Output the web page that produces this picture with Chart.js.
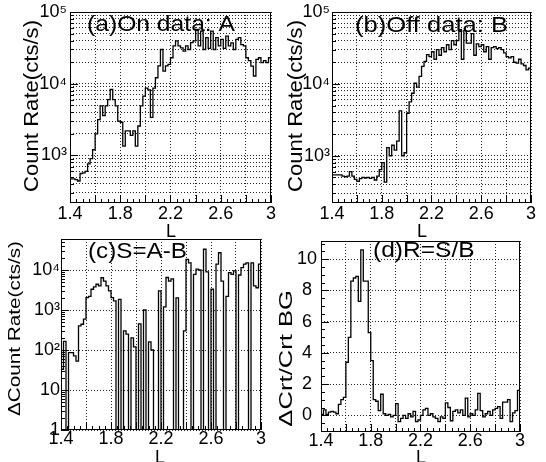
<!DOCTYPE html>
<html>
<head>
<meta charset="utf-8">
<script src="https://cdn.jsdelivr.net/npm/chart.js@4/dist/chart.umd.min.js"></script>
<style>
html,body{margin:0;padding:0;background:#fff;}
#wrap{position:relative;width:546px;height:462px;overflow:hidden;background:#fff;}
canvas{position:absolute;}
</style>
</head>
<body>
<div id="wrap">
<canvas id="ca" width="285" height="245" style="left:0px;top:0px"></canvas>
<canvas id="cb" width="273" height="245" style="left:273px;top:0px"></canvas>
<canvas id="cc" width="285" height="231" style="left:0px;top:231px"></canvas>
<canvas id="cd" width="273" height="231" style="left:273px;top:231px"></canvas>
</div>
<script>
// ---------------- data ----------------
const L_MIN = 1.4;
const L_MAX = 3.0;
const BIN_WIDTH = 0.02;

// (a) On data A, count rate (cts/s) per L bin
const ON_A = [
  470, 470, 460, 440, 560, 570, 600, 760, 900, 1200,
  2000, 3150, 4900, 3600, 4900, 6000, 8300, 6000, 4900, 3000,
  2900, 1350, 2200, 2200, 1900, 2200, 1350, 2570, 4900, 6700,
  8700, 8200, 3400, 8700, 12100, 17700, 30000, 15000, 17700, 18600,
  23000, 33700, 39500, 33700, 31700, 28500, 33700, 30000, 37500, 39500,
  57000, 33700, 54000, 30000, 44000, 31000, 54000, 30000, 44000, 33700,
  41500, 31000, 46000, 33700, 37000, 30000, 41500, 44000, 35000, 33700,
  23000, 21000, 17600, 12800, 21800, 23000, 19700, 21000, 19700, 23000
];
// (b) Off data B
const OFF_B = [
  540, 540, 540, 540, 520, 510, 520, 600, 520, 470,
  440, 480, 500, 490, 500, 485, 500, 460, 520, 640,
  800, 430, 1300, 1000, 1400, 1200, 1600, 4200, 1000, 1100,
  3900, 5600, 7400, 10200, 9000, 12700, 17500, 20500, 25500, 24000,
  28000, 22000, 30000, 25000, 32000, 28000, 35000, 30000, 40000, 35000,
  40000, 57000, 22000, 55000, 37000, 37000, 50000, 25000, 36000, 33000,
  35000, 28000, 33000, 22000, 32000, 33000, 31000, 32000, 30000, 27000,
  24000, 23000, 24000, 20000, 19500, 22000, 19000, 18000, 15700, 16500
];
// (c) S = A - B (0 = not positive, drawn to the bottom of the log axis)
const DIFF_S = [
  33, 165, 0, 86, 86, 71, 53, 400, 440, 590,
  2050, 2200, 3300, 3800, 4400, 4000, 6400, 5300, 4000, 3000,
  2050, 1700, 0, 1850, 0, 300, 250, 0, 200, 120,
  0, 450, 0, 1000, 0, 160, 100, 0, 0, 3000,
  0, 1200, 6500, 5300, 6000, 0, 2000, 0, 0, 300,
  18500, 15000, 0, 7800, 10500, 10000, 0, 33000, 9000, 0,
  3300, 0, 14000, 27000, 5300, 0, 2200, 8600, 7800, 9500,
  0, 7500, 11500, 14000, 15000, 0, 15000, 4000, 3600, 14000
];
// (d) R = S / B
const RATIO_R = [
  0.05, 0.35, 0.05, 0.2, 0.25, 0.2, 0.1, 0.7, 1.0, 1.15,
  3.4, 5.0, 8.6, 8.8, 8.9, 7.3, 10.6, 8.6, 8.6, 5.3,
  3.5, 1.0, 0.9, 0.3, 1.35, 0.1, 0.0, 0.05, -0.1, 0.0,
  0.75, -0.4, -0.2, 0.0, -0.2, 0.1, -0.1, 0.25, -0.4, -0.3,
  0.0, 0.35, 0.45, 0.0, 0.1, -0.1, -0.2, -0.4, -0.1, -0.2,
  0.8, 0.5, -0.35, 0.25, 0.35, 0.15, 0.35, 0.0, 1.1, -0.1,
  0.1, 0.0, 0.35, 1.4, 0.3, -0.1, 0.1, 0.25, 0.0, 0.35,
  0.45, 0.55, -0.2, 0.85, 0.85, 1.0, -0.4, 0.15, 0.3, 1.6
];

// ---------------- ticks / labels ----------------
const X_GRID_TICKS = [1.4, 1.6, 1.8, 2.0, 2.2, 2.4, 2.6, 2.8, 3.0];
const X_LABEL_VALUES = [1.4, 1.8, 2.2, 2.6, 3.0];
const X_LABEL_TEXT = ['1.4', '1.8', '2.2', '2.6', '3'];
const X_MINOR_STEP = 0.05;

const DECADES_AB = [100, 1000, 10000, 100000];
const DECADE_LABELS_AB = ['10²', '10³', '10⁴', '10⁵'];
const DECADES_C = [1, 10, 100, 1000, 10000];
const DECADE_LABELS_C = ['1', '10', '10²', '10³', '10⁴'];
const LIN_TICKS_D = [0, 2, 4, 6, 8, 10];
const LIN_LABELS_D = ['0', '2', '4', '6', '8', '10'];
const LIN_MINOR_D = 0.5;

const PANEL_TITLES = ['(a)On data: A', '(b)Off data: B', '(c)S=A-B', '(d)R=S/B'];
const Y_TITLES = ['Count Rate(cts/s)', 'Count Rate(cts/s)', 'ΔCount Rate(cts/s)', 'ΔCrt/Crt BG'];
const X_TITLE = 'L';

// ---------------- helpers ----------------
const FONT = '"Liberation Sans", Arial, Helvetica, sans-serif';
const GRID_COLOR = 'rgba(0,0,0,0.85)';
const GRID_DASH = [1, 2];
const LOG_FLOOR = 0.3; // non-positive bins drop to the bottom of a log axis

function histogram(values, floor) {
  const pts = values.map((v, i) => ({
    x: +(L_MIN + i * BIN_WIDTH).toFixed(4),
    y: floor === undefined ? v : Math.max(v, floor)
  }));
  pts.push({x: L_MAX, y: pts[pts.length - 1].y});
  return pts;
}

function logMinorTicks(decades, lo, hi) {
  const out = [];
  decades.forEach(d => {
    for (let m = 1; m <= 9; m++) {
      const v = d * m;
      if (v >= lo && v <= hi) out.push(v);
    }
  });
  return out;
}

function near(a, b) { return Math.abs(a - b) < 1e-6 * Math.max(1, Math.abs(b)); }

function fitText(ctx, text, x, y, px, width, rotated, align) {
  ctx.save();
  ctx.font = px + 'px ' + FONT;
  ctx.fillStyle = '#000';
  ctx.textBaseline = 'alphabetic';
  ctx.textAlign = align || 'left';
  ctx.translate(x, y);
  if (rotated) ctx.rotate(-Math.PI / 2);
  if (width) {
    const w = ctx.measureText(text).width;
    ctx.scale(width / w, 1);
  }
  ctx.fillText(text, 0, 0);
  ctx.restore();
}

function decoPlugin(spec) {
  return {
    id: 'deco',
    afterDraw(chart) {
      const ctx = chart.ctx;
      const a = chart.chartArea;
      const xs = chart.scales.x, ys = chart.scales.y;
      ctx.save();
      ctx.strokeStyle = '#000';
      ctx.lineWidth = 1;
      ctx.setLineDash([]);
      ctx.beginPath();
      for (let v = L_MIN; v <= L_MAX + 1e-9; v += X_MINOR_STEP) {
        const px = Math.round(xs.getPixelForValue(v)) + 0.5;
        const major = X_GRID_TICKS.some(t => near(t, v));
        ctx.moveTo(px, a.bottom);
        ctx.lineTo(px, a.bottom - (major ? 8 : 4));
      }
      spec.yTicks.forEach(t => {
        const py = Math.round(ys.getPixelForValue(t.v)) + 0.5;
        if (py < a.top - 0.5 || py > a.bottom + 0.5) return;
        ctx.moveTo(a.left, py);
        ctx.lineTo(a.left + t.len, py);
      });
      ctx.stroke();
      ctx.strokeRect(Math.round(a.left) + 0.5, Math.round(a.top) + 0.5,
        Math.round(a.right - a.left) - 1, Math.round(a.bottom - a.top) - 1);
      ctx.restore();
      const t = spec.text;
      fitText(ctx, t.title, t.tx, t.ty, t.tpx, t.tw, false, 'left');
      fitText(ctx, t.ytitle, t.yx, t.yy, t.ypx, t.yw, true, 'center');
      fitText(ctx, X_TITLE, t.lx, t.ly, 18, null, false, 'left');
    }
  };
}

function makeChart(id, spec) {
  const canvas = document.getElementById(id);
  const W = canvas.width, H = canvas.height;
  const ar = spec.area;
  const tickFont = {family: FONT, size: 18};
  return new Chart(canvas, {
    type: 'line',
    data: {
      datasets: [{
        data: spec.points,
        stepped: 'before',
        borderColor: '#000',
        borderWidth: 1.3,
        pointRadius: 0,
        fill: false,
        tension: 0
      }]
    },
    options: {
      responsive: false,
      animation: false,
      devicePixelRatio: 1,
      events: [],
      layout: {padding: {left: 0, top: ar.t, right: W - ar.r, bottom: 0}},
      plugins: {legend: {display: false}, tooltip: {enabled: false}, title: {display: false}},
      scales: {
        x: {
          type: 'linear',
          min: L_MIN,
          max: L_MAX,
          afterBuildTicks: s => { s.ticks = X_GRID_TICKS.map(v => ({value: v})); },
          afterFit: s => { s.height = H - ar.b; s.paddingLeft = 0; s.paddingRight = 0; },
          ticks: {
            autoSkip: false, maxRotation: 0, minRotation: 0,
            padding: spec.xPad, color: '#000', font: tickFont,
            callback: v => {
              const i = X_LABEL_VALUES.findIndex(l => near(l, v));
              return i >= 0 ? X_LABEL_TEXT[i] : '';
            }
          },
          grid: {color: GRID_COLOR, lineWidth: 1, drawTicks: false},
          border: {display: false, dash: GRID_DASH}
        },
        y: {
          type: spec.yType,
          min: spec.yMin,
          max: spec.yMax,
          afterBuildTicks: s => { s.ticks = spec.yGrid.map(v => ({value: v})); },
          afterFit: s => { s.width = ar.l; s.paddingTop = 0; s.paddingBottom = 0; },
          ticks: {
            autoSkip: false, padding: spec.yPad, crossAlign: spec.crossAlign,
            color: '#000', font: tickFont,
            callback: v => {
              const i = spec.yLabelValues.findIndex(l => near(l, v));
              return i >= 0 ? spec.yLabelText[i] : '';
            }
          },
          grid: {color: GRID_COLOR, lineWidth: 1, drawTicks: false},
          border: {display: false, dash: GRID_DASH}
        }
      }
    },
    plugins: [decoPlugin(spec)]
  });
}

// ---------------- panels ----------------
const Y_MIN_A = 217, Y_MAX_A = 100000;
const Y_MIN_B = 220, Y_MAX_B = 100000;
const Y_MIN_C = 1, Y_MAX_C = 59600;
const Y_MIN_D = -1.07, Y_MAX_D = 11.17;

function logTickMarks(decades, lo, hi) {
  return logMinorTicks(decades, lo, hi).map(v => ({v: v, len: decades.some(d => near(d, v)) ? 8 : 4}));
}
function linTickMarks(lo, hi) {
  const out = [];
  for (let v = Math.ceil(lo / LIN_MINOR_D) * LIN_MINOR_D; v <= hi; v += LIN_MINOR_D) {
    out.push({v: v, len: LIN_TICKS_D.some(t => near(t, v)) ? 8 : 4});
  }
  return out;
}

makeChart('ca', {
  area: {l: 70, t: 12, r: 271, b: 203},
  points: histogram(ON_A),
  yType: 'logarithmic', yMin: Y_MIN_A, yMax: Y_MAX_A,
  yGrid: logMinorTicks(DECADES_AB, Y_MIN_A, Y_MAX_A),
  yLabelValues: DECADES_AB, yLabelText: DECADE_LABELS_AB,
  yTicks: logTickMarks(DECADES_AB, Y_MIN_A, Y_MAX_A),
  xPad: 0, yPad: 3, crossAlign: 'near',
  text: {title: PANEL_TITLES[0], tx: 87, ty: 31, tpx: 22, tw: 148,
         ytitle: Y_TITLES[0], yx: 37.5, yy: 106, ypx: 21, yw: 172,
         lx: 166, ly: 237}
});
makeChart('cb', {
  area: {l: 59, t: 12, r: 258, b: 203},
  points: histogram(OFF_B),
  yType: 'logarithmic', yMin: Y_MIN_B, yMax: Y_MAX_B,
  yGrid: logMinorTicks(DECADES_AB, Y_MIN_B, Y_MAX_B),
  yLabelValues: DECADES_AB, yLabelText: DECADE_LABELS_AB,
  yTicks: logTickMarks(DECADES_AB, Y_MIN_B, Y_MAX_B),
  xPad: 0, yPad: 2, crossAlign: 'near',
  text: {title: PANEL_TITLES[1], tx: 82, ty: 31.5, tpx: 22, tw: 153,
         ytitle: Y_TITLES[1], yx: 29, yy: 106, ypx: 21, yw: 172,
         lx: 144, ly: 237}
});
makeChart('cc', {
  area: {l: 61, t: 8, r: 261, b: 199},
  points: histogram(DIFF_S, LOG_FLOOR),
  yType: 'logarithmic', yMin: Y_MIN_C, yMax: Y_MAX_C,
  yGrid: DECADES_C,
  yLabelValues: DECADES_C, yLabelText: DECADE_LABELS_C,
  yTicks: logTickMarks(DECADES_C, Y_MIN_C, Y_MAX_C),
  xPad: -1.5, yPad: 1, crossAlign: 'near',
  text: {title: PANEL_TITLES[2], tx: 88, ty: 26.7, tpx: 22, tw: 99,
         ytitle: Y_TITLES[2], yx: 20, yy: 97.5, ypx: 17, yw: 175,
         lx: 155, ly: 232}
});
makeChart('cd', {
  area: {l: 48, t: 10, r: 247, b: 201},
  points: histogram(RATIO_R),
  yType: 'linear', yMin: Y_MIN_D, yMax: Y_MAX_D,
  yGrid: LIN_TICKS_D,
  yLabelValues: LIN_TICKS_D, yLabelText: LIN_LABELS_D,
  yTicks: linTickMarks(Y_MIN_D, Y_MAX_D),
  xPad: -1.5, yPad: 4, crossAlign: 'center',
  text: {title: PANEL_TITLES[3], tx: 100, ty: 26, tpx: 22, tw: 101.7,
         ytitle: Y_TITLES[3], yx: 19, yy: 127.3, ypx: 17.5, yw: 136.7,
         lx: 143, ly: 232}
});
</script>
</body>
</html>
